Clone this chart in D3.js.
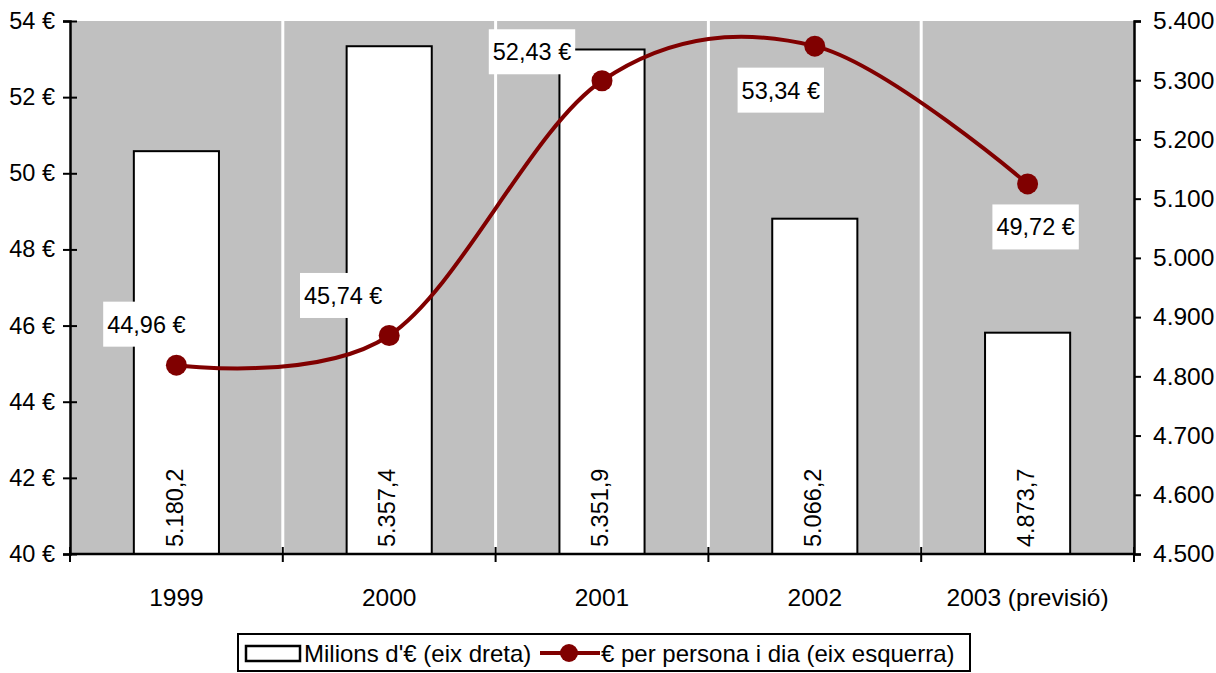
<!DOCTYPE html>
<html><head><meta charset="utf-8">
<script src="https://cdn.jsdelivr.net/npm/d3@7"></script>
<style>
html,body{margin:0;padding:0;background:#fff;}
svg{display:block;font-family:"Liberation Sans",Arial,sans-serif;}
</style></head>
<body>
<svg id="chart" width="1216" height="673"></svg>
<script>
// ---- data ----
const categories = ["1999", "2000", "2001", "2002", "2003 (previsió)"];
const millions = [5180.2, 5357.4, 5351.9, 5066.2, 4873.7];          // right axis (bars)
const millionsLabels = ["5.180,2", "5.357,4", "5.351,9", "5.066,2", "4.873,7"];
const perPerson = [44.96, 45.74, 52.43, 53.34, 49.72];             // left axis (line)
const perPersonLabels = ["44,96 €", "45,74 €", "52,43 €", "53,34 €", "49,72 €"];
const leftTicks = [40, 42, 44, 46, 48, 50, 52, 54];
const leftTickLabels = ["40 €", "42 €", "44 €", "46 €", "48 €", "50 €", "52 €", "54 €"];
const rightTicks = [4500, 4600, 4700, 4800, 4900, 5000, 5100, 5200, 5300, 5400];
const rightTickLabels = ["4.500", "4.600", "4.700", "4.800", "4.900", "5.000", "5.100", "5.200", "5.300", "5.400"];
const legendLabels = ["Milions d'€ (eix dreta)", "€ per persona i dia (eix esquerra)"];

// ---- layout ----
const M = {left: 70, right: 1134, top: 21, bottom: 554};
const labelOffsets = [[-30, -41], [-46, -40], [-70, -29], [-34, 44], [8, 43]];
const dark = "#800000";

const svg = d3.select("#chart");
const x = d3.scaleBand().domain(categories).range([M.left, M.right]).paddingInner(0).paddingOuter(0);
const yL = d3.scaleLinear().domain([40, 54]).range([M.bottom, M.top]);
const yR = d3.scaleLinear().domain([4500, 5400]).range([M.bottom, M.top]);

// plot background
svg.append("rect").attr("x", M.left).attr("y", M.top)
  .attr("width", M.right - M.left).attr("height", M.bottom - M.top).attr("fill", "#c0c0c0");

// white vertical gridlines at category boundaries
const bounds = categories.slice(1).map(c => x(c));
svg.append("g").selectAll("line").data(bounds).join("line")
  .attr("x1", d => d).attr("x2", d => d).attr("y1", M.top).attr("y2", M.bottom)
  .attr("stroke", "#fff").attr("stroke-width", 3);

// bars
const bw = x.bandwidth() * 0.4;
svg.append("g").selectAll("rect").data(millions).join("rect")
  .attr("x", (d, i) => x(categories[i]) + x.bandwidth() / 2 - bw / 2)
  .attr("y", d => yR(d))
  .attr("width", bw)
  .attr("height", d => M.bottom - yR(d))
  .attr("fill", "#fff").attr("stroke", "#000").attr("stroke-width", 2);

// bar value labels (rotated)
svg.append("g").selectAll("text").data(millionsLabels).join("text")
  .attr("transform", (d, i) => `translate(${x(categories[i]) + x.bandwidth() / 2 - 2},${M.bottom - 7}) rotate(-90)`)
  .attr("dy", "0.35em")
  .attr("font-size", 23.5)
  .attr("fill", "#000")
  .text(d => d);

// x axis
const gx = svg.append("g").attr("transform", `translate(0,${M.bottom})`);
gx.append("line").attr("x1", M.left).attr("x2", M.right).attr("stroke", "#000").attr("stroke-width", 2.5);
gx.selectAll("line.tk").data([M.left, ...bounds, M.right]).join("line").attr("class", "tk")
  .attr("x1", d => d).attr("x2", d => d).attr("y1", -7).attr("y2", 8)
  .attr("stroke", "#000").attr("stroke-width", 2);
gx.selectAll("text").data(categories).join("text")
  .attr("x", d => x(d) + x.bandwidth() / 2).attr("y", 52)
  .attr("text-anchor", "middle").attr("font-size", 24.5).attr("fill", "#000")
  .text(d => d);

// left axis
const axL = d3.axisLeft(yL).tickValues(leftTicks).tickSize(7).tickPadding(8)
  .tickFormat((d, i) => leftTickLabels[i]);
const gl = svg.append("g").attr("transform", `translate(${M.left},0)`).call(axL);
gl.select(".domain").attr("stroke", "#000").attr("stroke-width", 2.5);
gl.selectAll(".tick line").attr("x1", -7).attr("x2", 7).attr("stroke", "#000").attr("stroke-width", 2);
gl.selectAll(".tick text").attr("font-size", 23.5).attr("font-family", "Liberation Sans, Arial, sans-serif").attr("fill", "#000");

// right axis
const axR = d3.axisRight(yR).tickValues(rightTicks).tickSize(7).tickPadding(12)
  .tickFormat((d, i) => rightTickLabels[i]);
const gr = svg.append("g").attr("transform", `translate(${M.right},0)`).call(axR);
gr.select(".domain").attr("stroke", "#000").attr("stroke-width", 2.5);
gr.selectAll(".tick line").attr("stroke", "#000").attr("stroke-width", 2);
gr.selectAll(".tick text").attr("font-size", 24.5).attr("font-family", "Liberation Sans, Arial, sans-serif").attr("fill", "#000");

// smoothed line
const pts = perPerson.map((v, i) => [x(categories[i]) + x.bandwidth() / 2, yL(v)]);
svg.append("path").datum(pts)
  .attr("d", d3.line().curve(d3.curveCatmullRom.alpha(0)))
  .attr("fill", "none").attr("stroke", dark).attr("stroke-width", 4);
svg.append("g").selectAll("circle").data(pts).join("circle")
  .attr("cx", d => d[0]).attr("cy", d => d[1]).attr("r", 10.5).attr("fill", dark);

// line data labels
const lg = svg.append("g").selectAll("g").data(perPersonLabels).join("g")
  .attr("transform", (d, i) => `translate(${pts[i][0] + labelOffsets[i][0]},${pts[i][1] + labelOffsets[i][1]})`);
lg.append("text").attr("text-anchor", "middle").attr("dy", "0.36em")
  .attr("font-size", 23.5).attr("fill", "#000").text(d => d);
lg.each(function () {
  const g = d3.select(this);
  const bb = g.select("text").node().getBBox();
  g.insert("rect", "text").attr("x", bb.x - 4).attr("y", -22.5)
    .attr("width", bb.width + 8).attr("height", 45).attr("fill", "#fff");
});

// legend
const leg = svg.append("g");
leg.append("rect").attr("x", 238).attr("y", 634).attr("width", 732).attr("height", 37)
  .attr("fill", "#fff").attr("stroke", "#000").attr("stroke-width", 2);
leg.append("rect").attr("x", 246).attr("y", 646).attr("width", 54).attr("height", 15)
  .attr("fill", "#fff").attr("stroke", "#000").attr("stroke-width", 2.5);
leg.append("text").attr("x", 304).attr("y", 662).attr("font-size", 24).attr("fill", "#000").text(legendLabels[0]);
leg.append("line").attr("x1", 540).attr("x2", 600).attr("y1", 653).attr("y2", 653)
  .attr("stroke", dark).attr("stroke-width", 4);
leg.append("circle").attr("cx", 569).attr("cy", 653).attr("r", 9).attr("fill", dark);
leg.append("text").attr("x", 601).attr("y", 662).attr("font-size", 24).attr("fill", "#000").text(legendLabels[1]);
</script>
</body></html>
